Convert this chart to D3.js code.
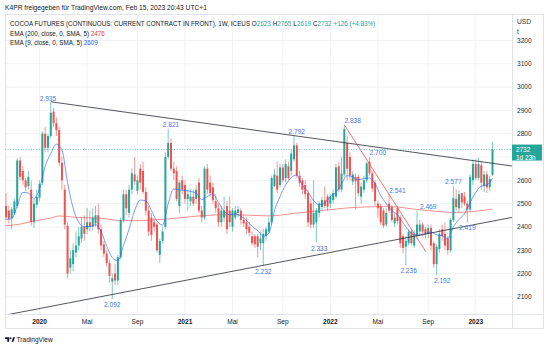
<!DOCTYPE html>
<html><head><meta charset="utf-8">
<script src="https://cdn.jsdelivr.net/npm/d3@7"></script>
<style>
body{margin:0;background:#fff}
svg{display:block}
text{font-family:"Liberation Sans",Arial,sans-serif}
</style>
</head><body>
<svg id="chart" width="550" height="348"></svg>
<script>
// ---------------- DATA ----------------
const firstWeek = "2019-10-14";   // weekly bars, one per Monday
const open = [2490,2470,2437,2460,2490,2685,2640,2600,2575,2560,2420,2495,
 2525,2590,2800,2740,2790,2895,2845,2815,2675,2560,2405,2225,2240,2290,2320,2350,2400,2390,2420,2400,2415,2450,2390,2325,2285,2245,2165,2200,2170,2270,2430,2540,2460,2560,2625,2555,2650,2640,2550,2470,2440,2420,2410,2280,2340,2400,2700,2760,2650,2640,2490,2600,2580,
 2520,2510,2530,2520,2590,2470,2440,2650,2590,2570,2510,2480,2420,2440,2490,2470,2400,2440,2460,2470,2430,2420,2400,2360,2360,2360,2330,2330,2360,2380,2420,2575,2620,2580,2655,2610,2660,2640,2690,2750,2620,2600,2580,2545,2500,2410,2420,2460,2485,2515,2530,2500,2515,2530,2660,
 2560,2625,2760,2700,2595,2615,2615,2530,2560,2600,2680,2630,2590,2500,2490,2470,2410,2500,2485,2415,2480,2440,2360,2315,2330,2380,2320,2360,2380,2410,2390,2370,2395,2330,2240,2305,2390,2370,2350,2300,2430,2520,2480,2545,2530,2500,2475,2600,2670,2610,2665,2575,2625,2570,2623];
const high = [2545,2490,2485,2520,2695,2700,2660,2610,2640,2600,2520,2560,
 2600,2810,2830,2800,2935,2910,2870,2830,2700,2580,2420,2300,2330,2380,2400,2440,2450,2480,2470,2480,2490,2500,2410,2340,2300,2260,2200,2240,2280,2440,2560,2560,2580,2650,2700,2620,2670,2680,2570,2490,2460,2440,2420,2350,2400,2720,2821,2780,2680,2660,2600,2620,2600,
 2560,2560,2560,2580,2610,2490,2660,2670,2620,2590,2540,2500,2490,2530,2510,2530,2480,2490,2490,2480,2450,2440,2420,2380,2370,2370,2380,2390,2400,2440,2620,2650,2680,2670,2670,2690,2680,2730,2792,2760,2640,2610,2600,2560,2520,2600,2480,2510,2530,2573,2540,2540,2560,2670,2680,
 2700,2838,2790,2720,2640,2630,2625,2590,2620,2680,2700,2640,2600,2510,2500,2480,2480,2541,2495,2460,2490,2450,2370,2360,2390,2390,2385,2469,2430,2420,2400,2410,2410,2340,2325,2390,2410,2420,2360,2440,2577,2560,2555,2545,2550,2510,2625,2690,2690,2697,2680,2640,2640,2620,2765];
const low = [2430,2415,2390,2450,2480,2600,2580,2555,2560,2405,2395,2480,
 2510,2580,2720,2720,2780,2830,2790,2660,2560,2390,2180,2200,2210,2270,2300,2330,2340,2370,2380,2385,2400,2370,2300,2270,2230,2160,2092,2150,2150,2260,2420,2450,2440,2540,2580,2540,2560,2540,2450,2360,2340,2380,2290,2245,2330,2390,2690,2640,2600,2510,2460,2540,2500,
 2470,2490,2490,2500,2460,2420,2430,2540,2530,2500,2460,2400,2400,2420,2370,2400,2380,2430,2440,2410,2400,2370,2360,2320,2310,2270,2300,2232,2340,2370,2410,2570,2545,2570,2590,2590,2600,2620,2680,2610,2570,2540,2520,2400,2395,2395,2333,2440,2470,2480,2470,2480,2500,2520,2550,
 2550,2615,2600,2600,2580,2475,2530,2500,2545,2590,2620,2550,2490,2440,2410,2395,2400,2460,2420,2400,2410,2310,2286,2236,2320,2320,2310,2350,2360,2360,2350,2350,2300,2225,2192,2290,2340,2300,2280,2290,2420,2470,2460,2480,2490,2419,2465,2580,2600,2600,2560,2550,2545,2555,2619];
const close = [2441,2435,2475,2510,2685,2615,2600,2570,2615,2420,2500,2530,
 2585,2800,2740,2790,2890,2845,2815,2675,2600,2410,2200,2265,2300,2320,2360,2400,2370,2420,2400,2440,2450,2390,2320,2285,2245,2190,2180,2170,2270,2430,2540,2480,2560,2630,2595,2600,2590,2550,2470,2380,2365,2400,2300,2340,2380,2700,2760,2650,2630,2520,2590,2560,2520,
 2540,2530,2500,2560,2470,2440,2650,2560,2545,2515,2480,2420,2470,2470,2390,2420,2470,2470,2475,2430,2415,2390,2375,2330,2325,2315,2350,2370,2390,2420,2610,2625,2560,2655,2600,2670,2610,2715,2750,2620,2590,2560,2540,2420,2410,2460,2470,2500,2515,2490,2487,2530,2545,2655,2560,
 2630,2820,2650,2620,2625,2595,2545,2573,2600,2673,2630,2565,2510,2480,2420,2405,2460,2470,2430,2440,2425,2330,2310,2340,2380,2330,2370,2410,2410,2380,2370,2395,2320,2240,2315,2370,2360,2320,2300,2430,2523,2485,2540,2505,2500,2475,2615,2670,2610,2670,2590,2625,2570,2606,2732];

// EMA (9), one value every second week from firstWeek
const ema9 = [2432,2435,2490,2548,2545,2522,2565,2660,2715,2755,2730,2590,2480,2420,2401,2401,2410,2380,2318,2268,2255,2320,2390,2470,2515,2512,2470,2425,2408,2500,2563,2558,2557,2552,2545,2517,2530,2542,2505,2468,2452,2457,2446,2428,2402,2385,2360,2372,2470,2530,2580,2612,2622,2578,2551,2513,2496,2503,2530,2548,2585,2620,2614,2602,2608,2610,2585,2535,2500,2470,2452,2418,2385,2366,2365,2372,2378,2366,2362,2350,2400,2432,2457,2505,2548,2575,2580,2609];

// EMA (200)
const ema200Dates = ["2019-10-14","2019-11-18","2019-12-23","2020-02-03","2020-02-24","2020-04-06","2020-06-08","2020-07-27","2020-08-31","2020-11-16","2021-02-01","2021-04-26","2021-08-02","2021-10-04","2021-12-27","2022-03-21","2022-05-30","2022-08-22","2022-11-14","2023-02-13"];
const ema200Values = [2405,2412,2425,2438,2447,2441,2437,2427,2427,2433,2446,2453,2447,2458,2473,2485,2487,2472,2462,2476];

// pivot labels
const pivotDates = ["2020-01-27","2020-07-06","2020-11-30","2021-07-19","2021-10-11","2021-12-06","2022-02-28","2022-05-02","2022-06-20","2022-07-18","2022-09-05","2022-10-10","2022-11-07","2022-12-12"];
const pivotValues = [2935,2092,2821,2232,2792,2333,2838,2700,2541,2236,2469,2192,2577,2419];
const pivotKinds = ["H","L","H","L","H","L","H","H","H","L","H","L","H","L"];

// drawn trend lines (two anchor points each)
const topLine = [["2020-02-03",2937],["2023-02-13",2673]];
const bottomLine = [["2020-07-06",2110],["2021-07-19",2235]];
const redLine = [["2022-02-07",2838],["2022-08-30",2294]];

const priceTicks = [2100,2200,2300,2400,2500,2600,2700,2800,2900,3000,3100,3200];
const timeTickDates = ["2020-01-06","2020-05-04","2020-09-07","2021-01-04","2021-05-03","2021-09-06","2022-01-03","2022-05-02","2022-09-05","2023-01-02"];
const timeTickLabels = ["2020","Mai","Sep","2021","Mai","Sep","2022","Mai","Sep","2023"];

const lastBar = {o:2623,h:2765,l:2619,c:2732,chg:"+126 (+4.83%)"};
const ema200Last = 2476, ema9Last = 2609;

// ---------------- DRAW ----------------
const UP = "#26a69a", DOWN = "#ef5350", TXT = "#131722", GRID = "#f0f2f6", BORDER = "#e0e3eb";
const L = 5, R = 512, T = 14, B = 314, RR = 544, BB = 329;
const parse = d3.utcParse("%Y-%m-%d");
const start = parse(firstWeek);
const weeks = open.map((_, k) => d3.utcDay.offset(start, 7 * k));

const x = d3.scaleUtc()
  .domain([new Date(Date.UTC(2019,9,11,9,36)), new Date(Date.UTC(2023,3,2,19,12))])
  .range([L, R]);
const y = d3.scaleLinear().domain([2026.2, 3313.7]).range([B, T]);

const svg = d3.select("#chart");
svg.append("rect").attr("width",550).attr("height",348).attr("fill","#fff");

svg.append("defs").append("clipPath").attr("id","plot")
  .append("rect").attr("x",L).attr("y",T).attr("width",R-L).attr("height",B-T);

// grid
const grid = svg.append("g");
grid.selectAll(".hg").data(priceTicks).join("line")
  .attr("x1",L).attr("x2",R).attr("y1",d=>y(d)).attr("y2",d=>y(d))
  .attr("stroke",GRID).attr("stroke-width",1);
grid.selectAll(".vg").data(timeTickDates).join("line")
  .attr("x1",d=>x(parse(d))).attr("x2",d=>x(parse(d))).attr("y1",T).attr("y2",B)
  .attr("stroke",GRID).attr("stroke-width",1);

// frame
const fr = svg.append("g").attr("stroke",BORDER).attr("stroke-width",1).attr("fill","none");
fr.append("rect").attr("x",L+0.5).attr("y",T+0.5).attr("width",RR-L-1).attr("height",BB-T-1);
fr.append("line").attr("x1",R+0.5).attr("x2",R+0.5).attr("y1",T).attr("y2",BB);
fr.append("line").attr("x1",L).attr("x2",RR).attr("y1",B+0.5).attr("y2",B+0.5);

const plot = svg.append("g").attr("clip-path","url(#plot)");

// EMA 200
plot.append("path")
  .datum(ema200Dates.map((d,k)=>[parse(d), ema200Values[k]]))
  .attr("d", d3.line().x(d=>x(d[0])).y(d=>y(d[1])).curve(d3.curveMonotoneX))
  .attr("fill","none").attr("stroke","#f05a5a").attr("stroke-opacity",0.75).attr("stroke-width",0.9);

// last price dotted line
plot.append("line").attr("x1",L).attr("x2",R).attr("y1",y(lastBar.c)).attr("y2",y(lastBar.c))
  .attr("stroke",UP).attr("stroke-width",0.8).attr("stroke-dasharray","1,1.6").attr("opacity",0.8);

// candles
const cg = plot.append("g");
weeks.forEach((d,k)=>{
  const o=open[k], c=close[k], col = c>=o?UP:DOWN, cx = x(d);
  cg.append("line").attr("x1",cx).attr("x2",cx).attr("y1",y(high[k])).attr("y2",y(low[k]))
    .attr("stroke",col).attr("stroke-width",0.8).attr("stroke-opacity",0.75);
  const y0 = y(Math.max(o,c)), h = Math.max(0.7, Math.abs(y(o)-y(c)));
  cg.append("rect").attr("x",cx-1).attr("width",2).attr("y",y0).attr("height",h).attr("fill",col);
});

// EMA 9
plot.append("path")
  .datum(ema9.map((v,k)=>[d3.utcDay.offset(start,14*k), v]))
  .attr("d", d3.line().x(d=>x(d[0])).y(d=>y(d[1])).curve(d3.curveMonotoneX))
  .attr("fill","none").attr("stroke","#2962ff").attr("stroke-opacity",0.7).attr("stroke-width",0.9);

// trend lines
function extLine(pts, extL, extR){
  const [a,b] = pts.map(p=>[parse(p[0]).getTime(), p[1]]);
  const slope = (b[1]-a[1])/(b[0]-a[0]);
  const [d0,d1] = x.domain().map(d=>d.getTime());
  const s = extL ? d0 : a[0], e = extR ? d1 : b[0];
  return [[x(new Date(s)), y(a[1]+slope*(s-a[0]))],[x(new Date(e)), y(a[1]+slope*(e-a[0]))]];
}
[[topLine,false,true,"#2a2e39"],[bottomLine,true,true,"#2a2e39"],[redLine,false,false,"#f05050"]].forEach(([pts,el,er,col])=>{
  const p = extLine(pts,el,er);
  plot.append("line").attr("x1",p[0][0]).attr("y1",p[0][1]).attr("x2",p[1][0]).attr("y2",p[1][1])
    .attr("stroke",col).attr("stroke-width",0.9).attr("stroke-opacity",0.9);
});

// pivot labels
const de = d3.formatLocale({decimal:",",thousands:".",grouping:[3],currency:["","€"]}).format(",");
plot.selectAll(".pv").data(pivotValues).join("text")
  .attr("x",(v,k)=>x(parse(pivotDates[k])))
  .attr("y",(v,k)=>pivotKinds[k]==="H" ? y(v)-1.5 : y(v)+8)
  .attr("text-anchor","middle").attr("font-size",6.6).attr("fill","#4a78e6")
  .text(v=>de(v));

// right axis (labels under the last-price box are hidden, as in the original)
const boxTop = y(lastBar.c)-5, boxBot = boxTop + 16;
const ax = svg.append("g").attr("font-size",6.6).attr("fill","#2a2e39");
ax.selectAll("text").data(priceTicks.filter(d => y(d)+3 < boxTop || y(d)-3 > boxBot)).join("text")
  .attr("x",517).attr("y",d=>y(d)+2.3).text(d=>d);
svg.append("text").attr("x",517).attr("y",24).attr("font-size",6.6).attr("fill","#2a2e39").text("USD");
svg.append("text").attr("x",517).attr("y",33.5).attr("font-size",6.6).attr("fill","#2a2e39").text("t");

// last price box
svg.append("rect").attr("x",R).attr("y",boxTop).attr("width",30).attr("height",16).attr("fill",UP);
svg.append("text").attr("x",516).attr("y",y(lastBar.c)+2.3).attr("font-size",6.4).attr("fill","#fff").text(lastBar.c);
svg.append("text").attr("x",516).attr("y",y(lastBar.c)+10.2).attr("font-size",6.4).attr("fill","#fff").text("1d 23h");

// bottom axis
svg.append("g").selectAll("text").data(timeTickDates).join("text")
  .attr("x",d=>x(parse(d))).attr("y",324.3).attr("text-anchor","middle")
  .attr("font-size",6.6).attr("fill",TXT)
  .attr("font-weight",(d,k)=>/^\d{4}$/.test(timeTickLabels[k])?"bold":"normal")
  .text((d,k)=>timeTickLabels[k]);

// header
svg.append("text").attr("x",5).attr("y",9.6).attr("font-size",6.7).attr("fill",TXT)
  .text("K4PR freigegeben für TradingView.com, Feb 15, 2023 20:43 UTC+1");

// legend
const lg = svg.append("g").attr("font-size",6.3).attr("fill",TXT);
const l1 = lg.append("text").attr("x",10).attr("y",26.2);
l1.append("tspan").text("COCOA FUTURES (CONTINUOUS: CURRENT CONTRACT IN FRONT), 1W, ICEUS O");
l1.append("tspan").attr("fill",UP).text(lastBar.o);
l1.append("tspan").attr("dx",2).text("H");
l1.append("tspan").attr("fill",UP).text(lastBar.h);
l1.append("tspan").attr("dx",2).text("L");
l1.append("tspan").attr("fill",UP).text(lastBar.l);
l1.append("tspan").attr("dx",2).text("C");
l1.append("tspan").attr("fill",UP).text(lastBar.c);
l1.append("tspan").attr("dx",2).attr("fill",UP).text(lastBar.chg);
const l2 = lg.append("text").attr("x",10).attr("y",35.5);
l2.append("tspan").text("EMA (200, close, 0, SMA, 5) ");
l2.append("tspan").attr("fill","#f23645").text(ema200Last);
const l3 = lg.append("text").attr("x",10).attr("y",44.9);
l3.append("tspan").text("EMA (9, close, 0, SMA, 5) ");
l3.append("tspan").attr("fill","#2962ff").text(ema9Last);

// footer logo
const lo = svg.append("g").attr("fill",TXT);
lo.append("path").attr("d","M5,337.2 h4.2 v4.6 h-1.9 v-2.8 h-2.3 z");
lo.append("circle").attr("cx",10.6).attr("cy",338.2).attr("r",0.95);
lo.append("path").attr("d","M11.6,341.8 L13.2,337.2 L15,337.2 L13.4,341.8 z");
svg.append("text").attr("x",16.5).attr("y",341.8).attr("font-size",6.6).attr("fill",TXT).text("TradingView");
</script>
</body></html>
